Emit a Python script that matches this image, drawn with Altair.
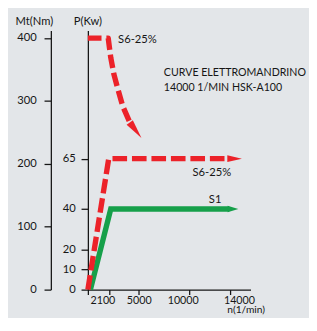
import altair as alt
import pandas as pd

# ---- data ----
# Torque curve S6-25% (Mt, Nm) vs speed n (1/min)
torque_n = [0, 2000, 2250, 2550, 2880, 3420, 4150]
torque_mt = [400, 400, 369, 343, 323, 292, 265]
torque_tip_n = [5270]
torque_tip_mt = [241]

# Power curve S6-25% (P, kW)
s6_n = [0, 2050, 13800]
s6_p = [0, 65, 65]
s6_tip_n = [15150]
s6_tip_p = [65]

# Power curve S1 (P, kW)
s1_n = [250, 2250, 13900]
s1_p = [0, 40, 40]
s1_tip_n = [14800]
s1_tip_p = [40]

# tick values
x_ticks = [0, 2100, 5000, 10000, 14000]
mt_ticks = [0, 100, 200, 300, 400]
p_ticks = [0, 10, 20, 40, 65]

# labels
torque_label = ["S6-25%"]
torque_label_n = [2970]
torque_label_mt = [397]
power_labels = ["S6-25%", "S1"]
power_label_n = [14090, 13130]
power_label_p = [58, 44.5]
title_lines = ["CURVE ELETTROMANDRINO", "14000 1/MIN HSK-A100"]

RED = "#ec2229"
GREEN = "#16a04a"
FONT = "Lato"
INK = "#161616"

x_enc = alt.X(
    "n:Q",
    scale=alt.Scale(domain=[0, 16000], nice=False, zero=False),
    axis=alt.Axis(
        values=x_ticks,
        title="n(1/min)",
        titleX=162, titleY=23, titleAngle=0, titleAlign="center",
        titleBaseline="alphabetic", titleFontSize=10.5,
        labelExpr="datum.value == 0 ? '' : datum.label",
        labelOffset={
            "condition": [
                {"test": "datum.value == 2100", "value": -7},
                {"test": "datum.value == 10000", "value": -7},
                {"test": "datum.value == 14000", "value": 9},
            ],
            "value": 0,
        },
        tickSize=5, labelPadding=0, labelFontSize=11, grid=False, format="d",
    ),
)

mt_enc = alt.Y(
    "mt:Q",
    scale=alt.Scale(domain=[0, 412], nice=False),
    axis=alt.Axis(
        orient="left", offset=38, values=mt_ticks, title="Mt(Nm)",
        titleX=-17.5, titleY=-9, titleAngle=0, titleAlign="center",
        titleBaseline="middle", tickSize=7, labelPadding=8, grid=False,
    ),
)

p_enc = alt.Y(
    "p:Q",
    scale=alt.Scale(domain=[0, 128.6], nice=False),
    axis=alt.Axis(
        orient="left", offset=0, values=p_ticks, title="P(Kw)",
        titleX=-0.5, titleY=-9, titleAngle=0, titleAlign="center",
        titleBaseline="middle", tickSize=7, labelPadding=6, grid=False,
    ),
)

ARROW_NARROW = "M0,0L-2,-0.4L-2,0.4Z"
ARROW_H = "M0,0L-2,-0.47L-2,0.47Z"
ARROW_G = "M0,0L-2,-0.6L-2,0.6Z"

torque_df = pd.DataFrame({"n": torque_n, "mt": torque_mt})
torque_tip_df = pd.DataFrame({"n": torque_tip_n, "mt": torque_tip_mt})
torque_lab_df = pd.DataFrame({"n": torque_label_n, "mt": torque_label_mt, "t": torque_label})

torque_line = alt.Chart(torque_df).mark_line(
    color=RED, strokeWidth=5.5, strokeDash=[14, 5], strokeJoin="round"
).encode(x=x_enc, y=mt_enc)
torque_tip = alt.Chart(torque_tip_df).mark_point(
    shape=ARROW_NARROW, size=400, filled=True, color=RED, opacity=1, angle=53
).encode(x=x_enc, y=mt_enc)
torque_text = alt.Chart(torque_lab_df).mark_text(
    align="left", baseline="middle", font=FONT, fontSize=11.5, color=INK
).encode(x=x_enc, y=mt_enc, text="t:N")

torque_layer = alt.layer(torque_line, torque_tip, torque_text)

s6_df = pd.DataFrame({"n": s6_n, "p": s6_p})
s6_tip_df = pd.DataFrame({"n": s6_tip_n, "p": s6_tip_p})
s1_df = pd.DataFrame({"n": s1_n, "p": s1_p})
s1_tip_df = pd.DataFrame({"n": s1_tip_n, "p": s1_tip_p})
p_lab_df = pd.DataFrame({"n": power_label_n, "p": power_label_p, "t": power_labels})
title_df = pd.DataFrame({"t": [title_lines]})

s1_line = alt.Chart(s1_df).mark_line(
    color=GREEN, strokeWidth=5.5, strokeJoin="miter"
).encode(x=x_enc, y=p_enc)
s1_tip = alt.Chart(s1_tip_df).mark_point(
    shape=ARROW_G, size=121, filled=True, color=GREEN, opacity=1
).encode(x=x_enc, y=p_enc)
s6_line = alt.Chart(s6_df).mark_line(
    color=RED, strokeWidth=5.5, strokeDash=[15, 5], strokeJoin="round"
).encode(x=x_enc, y=p_enc)
s6_tip = alt.Chart(s6_tip_df).mark_point(
    shape=ARROW_H, size=225, filled=True, color=RED, opacity=1
).encode(x=x_enc, y=p_enc)
p_text = alt.Chart(p_lab_df).mark_text(
    align="right", baseline="middle", font=FONT, fontSize=11.5, color=INK
).encode(x=x_enc, y=p_enc, text="t:N")
title_text = alt.Chart(title_df).mark_text(
    align="left", baseline="alphabetic", font=FONT, fontSize=10.9, color=INK,
    lineHeight=15
).encode(x=alt.value(78), y=alt.value(47), text="t")

power_layer = alt.layer(s1_line, s1_tip, s6_line, s6_tip, p_text, title_text)

chart = alt.layer(torque_layer, power_layer).resolve_scale(
    y="independent"
).properties(
    width=167, height=266,
    background="#e3e6e9",
    autosize=alt.AutoSizeParams(type="none"),
    padding={"left": 82, "top": 19, "right": 60, "bottom": 25},
).configure_view(stroke=None).configure_axis(
    domainColor=INK, tickColor=INK, domainWidth=1.3, tickWidth=1.3,
    labelColor=INK, titleColor=INK, labelFont=FONT, titleFont=FONT,
    labelFontSize=11.5, titleFontSize=11.5, titleFontWeight="normal",
)

chart.save("out.html", embed_options={"renderer": "svg", "actions": False})
